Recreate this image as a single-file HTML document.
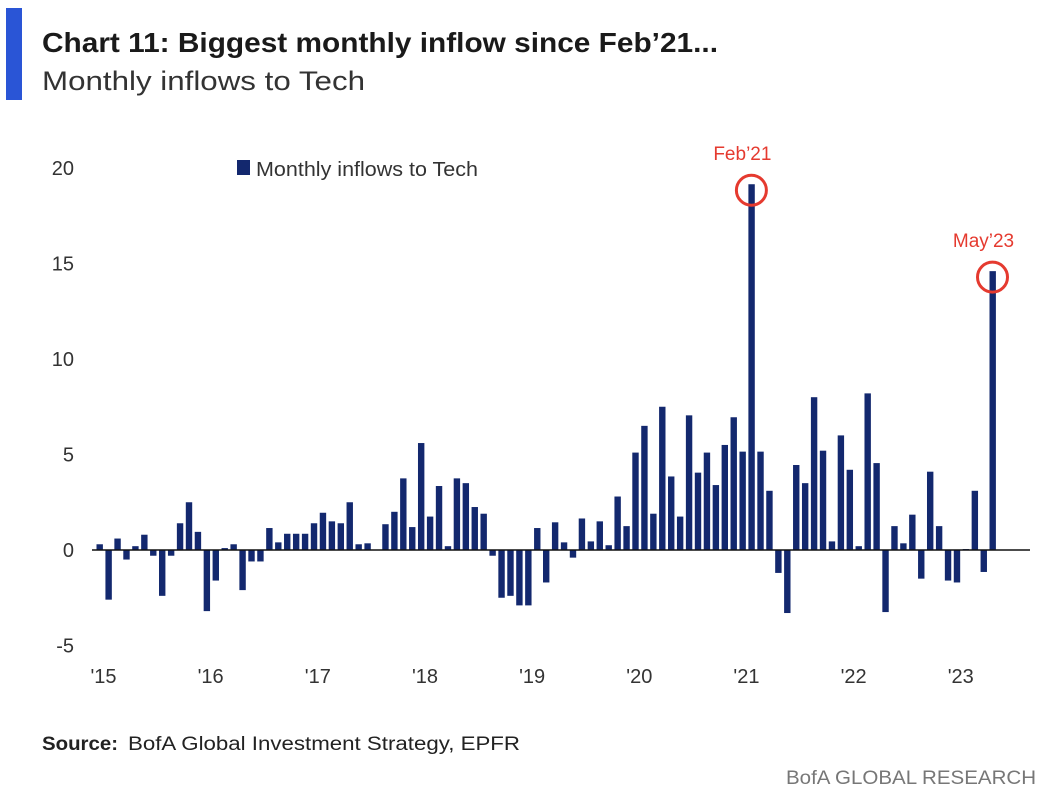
<!DOCTYPE html>
<html><head><meta charset="utf-8"><style>
html,body{margin:0;padding:0;background:#fff;}
svg{display:block;font-family:"Liberation Sans",sans-serif;}
</style></head><body>
<svg id="chart" width="1048" height="802" viewBox="0 0 1048 802">
<rect x="6" y="8" width="16" height="92" fill="#2a55d6"/>
<text x="42" y="52" font-size="28" font-weight="bold" fill="#1a1a1a" textLength="676" lengthAdjust="spacingAndGlyphs">Chart 11: Biggest monthly inflow since Feb’21...</text>
<text x="42" y="90" font-size="27" fill="#333" textLength="323" lengthAdjust="spacingAndGlyphs">Monthly inflows to Tech</text>
<g id="yaxis"></g>
<g id="xaxis"></g>
<g id="bars"></g>
<line x1="92" x2="1030" y1="550" y2="550" stroke="#111" stroke-width="1.5"/>
<g>
<rect x="237" y="160" width="13" height="15" fill="#13286e"/>
<text x="256" y="176" font-size="20" fill="#333" textLength="222" lengthAdjust="spacingAndGlyphs">Monthly inflows to Tech</text>
</g>
<g id="annos"></g>
<text x="42" y="750" font-size="19" fill="#222"><tspan font-weight="bold" textLength="76" lengthAdjust="spacingAndGlyphs">Source:</tspan><tspan dx="10" textLength="392" lengthAdjust="spacingAndGlyphs">BofA Global Investment Strategy, EPFR</tspan></text>
<text x="1036" y="784" font-size="19" fill="#777" text-anchor="end" textLength="250" lengthAdjust="spacingAndGlyphs">BofA GLOBAL RESEARCH</text>
</svg>
<script>
const years = ["'15","'16","'17","'18","'19","'20","'21","'22","'23"];
const yTicks = [20,15,10,5,0,-5];
const v2015 = [0.3,-2.6,0.6,-0.5,0.2,0.8,-0.3,-2.4,-0.3,1.4,2.5,0.95];
const v2016 = [-3.2,-1.6,0.1,0.3,-2.1,-0.6,-0.6,1.15,0.4,0.85,0.85,0.85];
const v2017 = [1.4,1.95,1.5,1.4,2.5,0.3,0.35,0,1.35,2.0,3.75,1.2];
const v2018 = [5.6,1.75,3.35,0.2,3.75,3.5,2.25,1.9,-0.3,-2.5,-2.4,-2.9];
const v2019 = [-2.9,1.15,-1.7,1.45,0.4,-0.4,1.65,0.45,1.5,0.25,2.8,1.25];
const v2020 = [5.1,6.5,1.9,7.5,3.85,1.75,7.05,4.05,5.1,3.4,5.5,6.95];
const v2021 = [5.15,19.15,5.15,3.1,-1.2,-3.3,4.45,3.5,8.0,5.2,0.45,6.0];
const v2022 = [4.2,0.2,8.2,4.55,-3.25,1.25,0.35,1.85,-1.5,4.1,1.25,-1.6];
const v2023 = [-1.7,0.05,3.1,-1.15,14.6];
const highlights = [{label:"Feb’21", idx:73},{label:"May’23", idx:100}];
const values = [].concat(v2015,v2016,v2017,v2018,v2019,v2020,v2021,v2022,v2023);

const NS="http://www.w3.org/2000/svg";
const y = v => 550 - v*19.1;
const x = i => 99.5 + i*8.93;
function mk(tag, attrs, parent, txt){const e=document.createElementNS(NS,tag);for(const k in attrs)e.setAttribute(k,attrs[k]);if(txt!==undefined)e.textContent=txt;parent.appendChild(e);return e;}

const ya=document.getElementById('yaxis');
yTicks.forEach(t=>{
  const e=mk('text',{x:74,y:y(t)+7,'font-size':20,fill:'#333','text-anchor':'end'},ya,String(t));
  
  
});
const xa=document.getElementById('xaxis');
years.forEach((yr,k)=>{
  const e=mk('text',{x:x(k*12)+4,y:683,'font-size':20,fill:'#333','text-anchor':'middle'},xa,yr);
  
  
});
const bg=document.getElementById('bars');
values.forEach((v,i)=>{
  const top=Math.min(y(v),y(0)), h=Math.abs(y(v)-y(0));
  const r=mk('rect',{x:x(i)-3,y:top,width:6.4,height:Math.max(h,0.5),fill:'#13286e'},bg);
  
  
});
const an=document.getElementById('annos');
highlights.forEach(h=>{
  const cx=x(h.idx), cy=y(values[h.idx]);
  const c=mk('circle',{cx:cx,cy:cy+6,r:15,fill:'none',stroke:'#e53a2f','stroke-width':3},an);
  
  
  const t=mk('text',{x:cx-9,y:cy-24,'font-size':19,fill:'#e53a2f','text-anchor':'middle'},an,h.label);
  
  
});
</script>
</body></html>
